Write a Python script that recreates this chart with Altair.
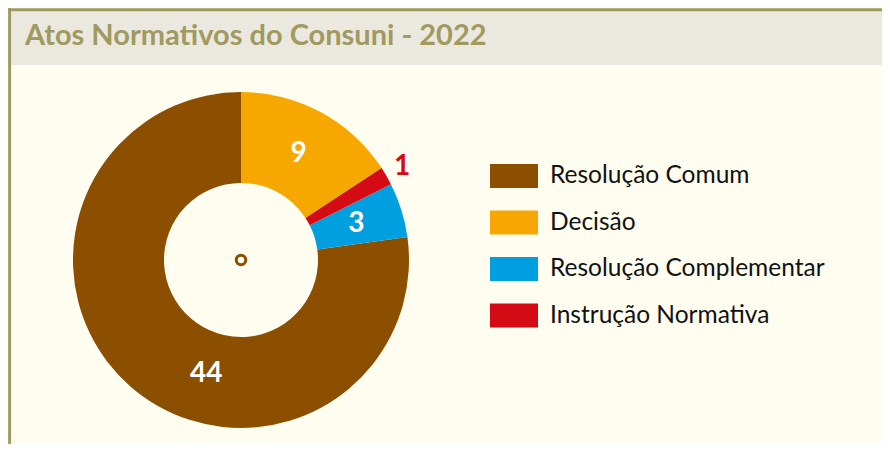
import altair as alt
import pandas as pd

TITULO = "Atos Normativos do Consuni - 2022"
categorias = ["Resolução Comum", "Decisão", "Resolução Complementar", "Instrução Normativa"]
valores = [44, 9, 3, 1]
ordem_horario = [4, 1, 3, 2]
cores = ["#8c4f00", "#f6a800", "#009fe0", "#d40a14"]

df = pd.DataFrame({"categoria": categorias, "valor": valores, "ordem": ordem_horario})

W, H = 874, 436
CX, CY = 233, 252
FONT = "Lato"

base = alt.Chart(df).encode(
    theta=alt.Theta("valor:Q", stack=True),
    order=alt.Order("ordem:Q"),
    x=alt.value(CX),
    y=alt.value(CY),
)

arc = base.mark_arc(outerRadius=168, innerRadius=77).encode(
    color=alt.Color(
        "categoria:N",
        scale=alt.Scale(domain=categorias, range=cores),
        legend=alt.Legend(
            title=None,
            orient="none",
            legendX=482,
            legendY=144,
            symbolType="M-1,-0.5H1V0.5H-1Z",
            symbolSize=2304,
            symbolStrokeWidth=0,
            symbolOpacity=1,
            labelFont=FONT,
            labelFontSize=24.5,
            labelColor="#111111",
            labelOffset=12,
            rowPadding=10.5,
            padding=0,
            labelLimit=400,
        ),
    )
)

def rotulo(cats, raio, cor, offset=0.0):
    cond = " || ".join(f"datum.categoria === '{c}'" for c in cats)
    return base.mark_text(
        radius=raio, thetaOffset=offset, font=FONT, fontSize=28, fontWeight="bold",
        color=cor, align="center", baseline="middle",
    ).encode(text=alt.condition(cond, "valor:Q", alt.value("")))

lab_in = rotulo(["Decisão", "Resolução Complementar"], 121, "#ffffff")
lab_out = rotulo(["Instrução Normativa"], 186, "#d40a14")
lab_big = rotulo(["Resolução Comum"], 119, "#ffffff", -0.42)

one = alt.Data(values=[{"t": TITULO}])

barra = alt.Chart(one).mark_rect(color="#ebe9df").encode(
    x=alt.value(3), x2=alt.value(W), y=alt.value(3), y2=alt.value(57)
)
borda_esq = alt.Chart(one).mark_rule(color="#a09a60", strokeWidth=3).encode(
    x=alt.value(1.6), y=alt.value(0), y2=alt.value(H)
)
borda_top = alt.Chart(one).mark_rule(color="#a09a60", strokeWidth=3).encode(
    y=alt.value(1.8), x=alt.value(0), x2=alt.value(W)
)
titulo = alt.Chart(one).mark_text(
    font=FONT, fontSize=29, fontWeight="bold", color="#a09a60", align="left", baseline="alphabetic"
).encode(text="t:N", x=alt.value(17), y=alt.value(37))

centro = alt.Chart(one).mark_point(
    shape="circle", filled=False, color="#8c4f00", strokeWidth=3, size=90, opacity=1
).encode(x=alt.value(CX), y=alt.value(CY))

chart = alt.layer(barra, borda_esq, borda_top, titulo, arc, lab_in, lab_out, lab_big, centro).properties(
    width=W, height=H, autosize=alt.AutoSizeParams(type="none"), padding=0, background="#fffdf0"
).configure_view(stroke=None)

chart.save("out.html", embed_options={"renderer": "svg", "actions": False})
